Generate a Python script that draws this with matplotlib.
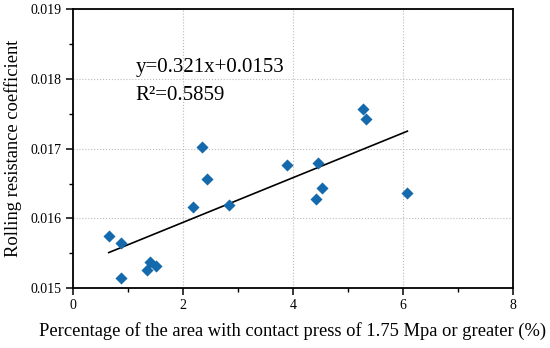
import numpy as np
import matplotlib.pyplot as plt
from matplotlib.ticker import MultipleLocator

plt.rcParams['font.family'] = ['Liberation Serif', 'DejaVu Serif']

# contact area share (%) and rolling resistance coefficient
area_pct = [0.65, 0.87, 0.87, 1.34, 1.40, 1.51, 2.18, 2.35, 2.43, 2.84,
            3.90, 4.42, 4.45, 4.52, 5.28, 5.33, 6.08]
rr_coef = [0.01575, 0.01565, 0.01514, 0.01526, 0.01537, 0.01531, 0.01616,
           0.01703, 0.01656, 0.01619, 0.01676, 0.01628, 0.01680, 0.01644,
           0.01757, 0.01742, 0.01637]

slope = 0.321
intercept = 0.0153

fig = plt.figure(figsize=(5.5, 3.48), dpi=100)
ax = fig.add_axes([0.1327, 0.1724, 0.80, 0.8006])

ax.scatter(area_pct, rr_coef, marker='D', s=38, color='#156aad', zorder=3,
           linewidths=0)

xf = np.array([min(area_pct), max(area_pct)])
ax.plot(xf, intercept + slope * xf / 1000, color='black', lw=1.2, zorder=2)

ax.text(1.14, 0.0181, 'y=0.321x+0.0153', fontsize=15, va='baseline')
ax.text(1.14, 0.0177, 'R\u00b2=0.5859', fontsize=15, va='baseline')

ax.set_xlim(0, 8)
ax.set_ylim(0.015, 0.019)
ax.xaxis.set_major_locator(MultipleLocator(2))
ax.xaxis.set_minor_locator(MultipleLocator(1))
ax.yaxis.set_major_locator(MultipleLocator(0.001))
ax.yaxis.set_minor_locator(MultipleLocator(0.0005))
ax.yaxis.set_major_formatter(plt.FormatStrFormatter('%.3f'))

ax.grid(True, which='major', ls=':', color='#bbbbbb', lw=0.8)
ax.set_axisbelow(True)
for s in ax.spines.values():
    s.set_linewidth(1.3)
ax.tick_params(which='major', length=5, width=1.1, labelsize=10, pad=3)
ax.tick_params(which='minor', length=3, width=1.0)

ax.set_xlabel('Percentage of the area with contact press of 1.75 Mpa or greater (%)',
              fontsize=13.3, labelpad=7)
ax.set_ylabel('Rolling resistance coefficient', fontsize=13.3, labelpad=6)

fig.savefig('out.png', dpi=100)
